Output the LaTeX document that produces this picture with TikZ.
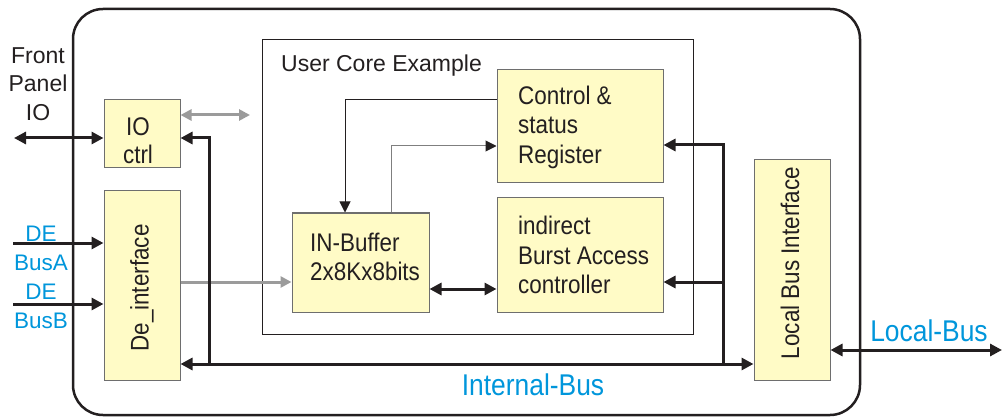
\documentclass[tikz,border=0pt]{standalone}
\usepackage{fontspec}
\setmainfont{Liberation Sans}
\newfontfamily\narrowfont[FakeStretch=0.88]{Liberation Sans}
\usetikzlibrary{arrows.meta}

\definecolor{boxfill}{HTML}{FFFBC6}
\definecolor{boxline}{HTML}{6E6E6E}
\definecolor{ink}{HTML}{231F20}
\definecolor{busgray}{HTML}{9B9B9B}
\definecolor{thingray}{HTML}{7F7F7F}
\definecolor{busblue}{HTML}{0096DB}

\tikzset{
  ybox/.style={draw=boxline, fill=boxfill, line width=1pt, inner sep=0pt},
  boxtext/.style={inner sep=0pt, align=left, font=\narrowfont\fontsize{25.5}{29.5}\selectfont, text=ink},
  plaintext/.style={inner sep=0pt, font=\fontsize{23}{28.5}\selectfont, text=ink},
  bluetext/.style={inner sep=0pt, align=center, font=\fontsize{22.5}{29}\selectfont, text=busblue},
  buslabel/.style={inner sep=0pt, font=\narrowfont\fontsize{30}{34}\selectfont, text=busblue},
  thickbus/.style={draw=ink, line width=3pt},
  thinlink/.style={draw=ink, line width=1pt},
  graylink/.style={draw=busgray, line width=3pt},
  bigtip/.tip={Triangle[length=12pt,width=12pt]},
  smalltip/.tip={Triangle[length=11pt,width=11pt]}
}

\begin{document}
\begin{tikzpicture}[x=1pt, y=-1pt]
\useasboundingbox (0,0) rectangle (1002,417);

% outer module frame and user core frame
\draw[ink, line width=2.5pt, rounded corners=30pt] (73,9) rectangle (860,415);
\node[draw=ink, line width=1pt, minimum width=431pt, minimum height=294pt, inner sep=0pt] (core) at (477.5,187) {};
\node[plaintext, anchor=west] (coretitle) at (281,66) {User Core Example};

% functional blocks
\node[ybox, minimum width=76pt, minimum height=68pt] (ioc) at (142,134) {};
\node[ybox, minimum width=76pt, minimum height=189pt] (dei) at (142,285.5) {};
\node[ybox, minimum width=166pt, minimum height=113pt] (csr) at (580,126.5) {};
\node[ybox, minimum width=166pt, minimum height=114pt] (ibc) at (580,255) {};
\node[ybox, minimum width=137pt, minimum height=99pt] (inb) at (360.5,262.5) {};
\node[ybox, minimum width=76pt, minimum height=220pt] (lbi) at (792,270) {};

% block captions
\node[boxtext, align=center, font=\narrowfont\fontsize{25.5}{28}\selectfont] (ioctext) at (138,141) {IO\\ctrl};
\node[boxtext, rotate=90] (deitext) at (142,288) {De\_interface};
\node[boxtext, anchor=west] (csrtext) at (518,127) {Control \&\\status\\Register};
\node[boxtext, anchor=west] (ibctext) at (518,255) {indirect\\Burst Access\\controller};
\node[boxtext, anchor=west] (inbtext) at (310,257) {IN-Buffer\\2x8Kx8bits};
\node[boxtext, rotate=90] (lbitext) at (790,263) {Local Bus Interface};

% outside labels
\node[plaintext, align=center] (fptext) at (38,84) {Front\\Panel\\IO};
\node[bluetext] (busa) at (41,248) {DE\\BusA};
\node[bluetext] (busb) at (41,306) {DE\\BusB};
\node[buslabel] (ibus) at (533,385) {Internal-Bus};
\node[buslabel] (lbus) at (929,331) {Local-Bus};

% connector anchor points
\coordinate (fp) at (14,138);
\coordinate (da) at (13,243);
\coordinate (db) at (13,304);
\coordinate (gio) at (250,115);
\coordinate (gde) at (230,282);
\coordinate (busL) at (209,364);
\coordinate (busR) at (723,364);
\coordinate (iotap) at (209,138);
\coordinate (csrtap) at (723,145);
\coordinate (ibctap) at (723,282);
\coordinate (link) at (460,289);
\coordinate (t1) at (345,100);
\coordinate (t2) at (391,146);
\coordinate (lb) at (1002,350);

% external ports
\draw[thickbus, {bigtip}-{bigtip}] (fp) -- (fp -| ioc.west);
\draw[thickbus, -{bigtip}] (da) -- (da -| dei.west);
\draw[thickbus, -{bigtip}] (db) -- (db -| dei.west);
\draw[thickbus, {bigtip}-{bigtip}] (lb -| lbi.east) -- (lb);

% gray data paths
\draw[graylink, {smalltip}-{smalltip}] (gio -| ioc.east) -- (gio);
\draw[graylink, -{smalltip}] (gde -| dei.east) -- (gde -| inb.west);

% internal bus
\draw[thickbus, {bigtip}-{bigtip}] (busL -| dei.east) -- (busR -| lbi.west);
\draw[thickbus, -{bigtip}] (busL) -- (iotap) -- (iotap -| ioc.east);
\draw[thickbus, -{bigtip}] (busR) -- (csrtap) -- (csrtap -| csr.east);
\draw[thickbus, -{bigtip}] (ibctap) -- (ibctap -| ibc.east);

% user core links
\draw[thickbus, {bigtip}-{bigtip}] (link -| inb.east) -- (link -| ibc.west);
\draw[thinlink, -{smalltip}] (t1 -| csr.west) -- (t1) -- (t1 |- inb.north);
\draw[draw=thingray, line width=1pt, -{Triangle[length=11pt,width=11pt,color=ink]}] (t2 |- inb.north) -- (t2) -- (t2 -| csr.west);
\end{tikzpicture}
\end{document}
